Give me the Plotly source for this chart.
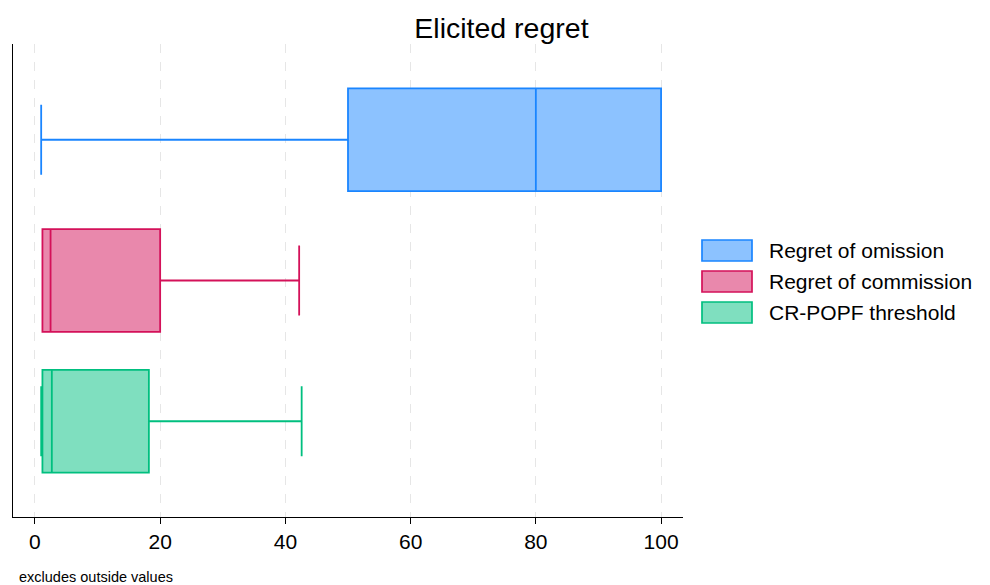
import plotly.graph_objects as go

series = ["Regret of omission", "Regret of commission", "CR-POPF threshold"]
lower = [1.0, 1.2, 1.0]
q1 = [50.0, 1.2, 1.2]
median = [80.0, 2.5, 2.7]
q3 = [100.0, 20.0, 18.2]
upper = [100.0, 42.2, 42.6]
line_colors = ["#1A85FF", "#D41159", "#00BF7F"]
fill_colors = ["#8CC2FF", "#E988AC", "#7FDFBF"]
xticks = [0, 20, 40, 60, 80, 100]

W, H = 982, 577
L, R, T, B = 5, 307, 36, 68
pw, ph = W - L - R, H - T - B

fig = go.Figure()
for i, name in enumerate(series):
    fig.add_trace(go.Box(
        name=name, orientation="h", y=[i],
        q1=[q1[i]], median=[median[i]], q3=[q3[i]],
        lowerfence=[lower[i]], upperfence=[upper[i]],
        line=dict(color=line_colors[i], width=1.8),
        fillcolor=fill_colors[i], width=0.73, whiskerwidth=0.68,
        boxpoints=False, hoverinfo="skip", showlegend=False,
    ))

# custom legend (larger swatches like the reference)
shapes, annots = [], []
sw_x0, sw_x1 = (702 - 13) / pw, (752 - 13) / pw
txt_x = (767 - 13) / pw
for i, name in enumerate(series):
    top = 240 + 31 * i
    y0 = (517 - top) / ph
    y1 = (517 - (top + 21)) / ph
    shapes.append(dict(type="rect", xref="paper", yref="paper", x0=sw_x0, x1=sw_x1,
                       y0=y1, y1=y0, fillcolor=fill_colors[i],
                       line=dict(color=line_colors[i], width=1.7)))
    annots.append(dict(text=name, xref="paper", yref="paper", x=txt_x, xanchor="left",
                       y=(y0 + y1) / 2, yanchor="middle", showarrow=False,
                       font=dict(size=21, color="black")))

annots.append(dict(text="excludes outside values", xref="paper", yref="paper",
                   x=0.006, xanchor="left", y=-0.127, yanchor="middle",
                   showarrow=False, font=dict(size=14.5, color="black")))

font = "Liberation Sans, Arial, Helvetica, sans-serif"
fig.update_layout(
    width=W, height=H,
    margin=dict(l=L, r=R, t=T, b=B),
    plot_bgcolor="white", paper_bgcolor="white",
    font=dict(family=font, size=21, color="black"),
    title=dict(text="Elicited regret", x=0.5025, xanchor="center", y=0.966, yanchor="middle",
               font=dict(size=28.5, color="black")),
    boxmode="overlay",
    showlegend=False,
    xaxis=dict(range=[-3.5, 103.5], tickvals=xticks, ticktext=[str(t) for t in xticks],
               showgrid=True, gridcolor="#E6E6E6", griddash="dash", gridwidth=1.2,
               showline=True, linecolor="black", linewidth=1.2, zeroline=False,
               ticks="outside", ticklen=6, tickcolor="black", tickfont=dict(size=21)),
    yaxis=dict(range=[2.68, -0.68], showticklabels=False, showgrid=False, zeroline=False,
               showline=True, linecolor="black", linewidth=1.2, ticks=""),
    shapes=shapes,
    annotations=annots,
)
fig.write_html("out.html")
